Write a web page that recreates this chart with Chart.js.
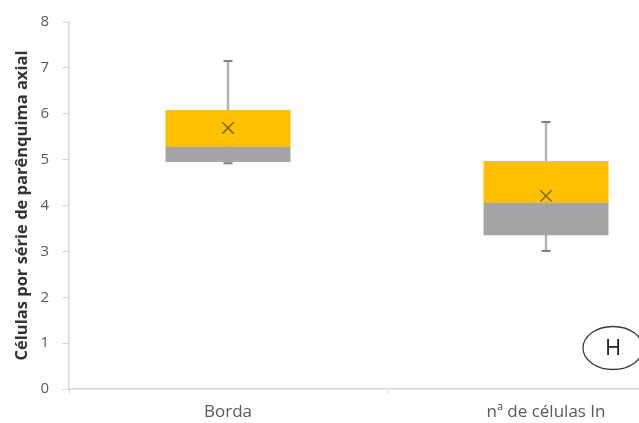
<!DOCTYPE html>
<html>
<head>
<meta charset="utf-8">
<script src="https://cdn.jsdelivr.net/npm/chart.js@4.4.0/dist/chart.umd.min.js"></script>
<style>
  html, body { margin: 0; padding: 0; background: #ffffff; overflow: hidden; }
  #wrap { position: relative; width: 720px; height: 423px; }
</style>
</head>
<body>
<div id="wrap"><canvas id="c"></canvas></div>
<script>
// Box plot summary per group
const categories = ['Borda', 'nª de células In'];
const minVals    = [4.92, 3.01];
const q1Vals     = [4.95, 3.35];
const medianVals = [5.29, 4.07];
const q3Vals     = [6.08, 4.97];
const maxVals    = [7.15, 5.82];
const meanVals   = [5.69, 4.21];
const yTicks     = [0, 1, 2, 3, 4, 5, 6, 7, 8];

const FONT = '"Open Sans", "DejaVu Sans", sans-serif';
const pair = (a, b) => a.map((v, i) => [v, b[i]]);

// Panel letter in a circle, lower right of the plot
const panelLabel = {
  id: 'panelLabel',
  afterDraw(chart) {
    const ctx = chart.ctx;
    const cx = 613, cy = 348;
    ctx.save();
    ctx.beginPath();
    ctx.ellipse(cx, cy, 30, 21.5, 0, 0, Math.PI * 2);
    ctx.fillStyle = '#ffffff';
    ctx.fill();
    ctx.lineWidth = 1.3;
    ctx.strokeStyle = '#3a3a3a';
    ctx.stroke();
    ctx.fillStyle = '#222222';
    ctx.font = '22px ' + FONT;
    ctx.textAlign = 'center';
    ctx.textBaseline = 'middle';
    ctx.fillText('H', cx, cy + 1);
    ctx.restore();
  }
};

new Chart(document.getElementById('c'), {
  type: 'bar',
  data: {
    labels: categories,
    datasets: [
      {
        label: 'whisker',
        data: pair(minVals, maxVals),
        backgroundColor: '#b3b3b3',
        barThickness: 1.8,
        grouped: false,
        order: 4
      },
      {
        label: 'Q1-mediana',
        data: pair(q1Vals, medianVals),
        backgroundColor: '#a5a5a5',
        barPercentage: 0.393,
        categoryPercentage: 1,
        grouped: false,
        order: 3
      },
      {
        label: 'mediana-Q3',
        data: pair(medianVals, q3Vals),
        backgroundColor: '#ffc000',
        barPercentage: 0.393,
        categoryPercentage: 1,
        grouped: false,
        order: 2
      },
      {
        type: 'line',
        label: 'max',
        data: maxVals,
        showLine: false,
        pointStyle: 'line',
        pointRadius: 4.5,
        borderColor: '#7f7f7f',
        borderWidth: 2,
        order: 1
      },
      {
        type: 'line',
        label: 'min',
        data: minVals,
        showLine: false,
        pointStyle: 'line',
        pointRadius: 4.5,
        borderColor: '#7f7f7f',
        borderWidth: 2,
        order: 1
      },
      {
        type: 'line',
        label: 'média',
        data: meanVals,
        showLine: false,
        pointStyle: 'crossRot',
        pointRadius: 8,
        borderColor: '#7a6a3a',
        borderWidth: 1.5,
        order: 0
      }
    ]
  },
  options: {
    responsive: true,
    maintainAspectRatio: false,
    animation: false,
    events: [],
    layout: { padding: { top: 22, right: 15, bottom: 0, left: 0 } },
    plugins: { legend: { display: false }, tooltip: { enabled: false } },
    scales: {
      x: {
        type: 'category',
        offset: true,
        afterFit(scale) { scale.height = 34; },
        grid: { display: true, offset: true, drawOnChartArea: false, color: '#d9d9d9', tickLength: 5 },
        border: { color: '#d9d9d9', width: 1.5 },
        ticks: { color: '#595959', font: { family: FONT, size: 17 }, padding: 8 }
      },
      y: {
        min: 0,
        max: 8,
        afterBuildTicks(scale) { scale.ticks = yTicks.map(v => ({ value: v })); },
        afterFit(scale) { scale.width = 69; },
        grid: { display: true, drawOnChartArea: false, color: '#d9d9d9', tickLength: 7 },
        border: { color: '#d9d9d9', width: 1.5 },
        ticks: { color: '#595959', font: { family: FONT, size: 15 }, padding: 13 },
        title: {
          display: true,
          text: 'Células por série de parênquima axial',
          color: '#333333',
          font: { family: FONT, size: 16.5, weight: 'bold' },
          padding: { top: 12, bottom: 0 }
        }
      }
    }
  },
  plugins: [panelLabel]
});
</script>
</body>
</html>
